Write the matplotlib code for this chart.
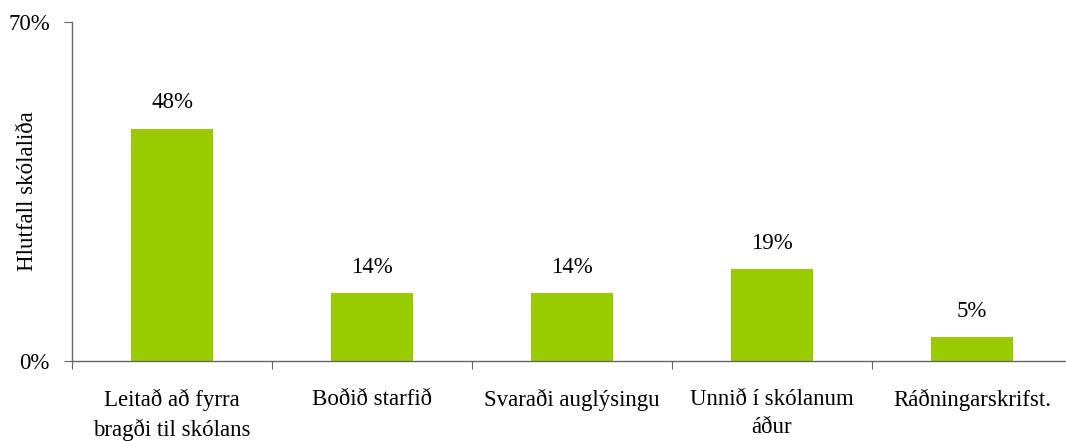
import matplotlib.pyplot as plt
from matplotlib.ticker import FixedLocator

# Data
categories = ["Leitað að fyrra\nbragði til skólans", "Boðið starfið", "Svaraði auglýsingu",
              "Unnið í skólanum\náður", "Ráðningarskrifst."]
values = [48, 14, 14, 19, 5]

plt.rcParams["font.family"] = ["Liberation Serif", "DejaVu Serif"]
FS = 16.5

fig = plt.figure(figsize=(10.66, 4.41), dpi=100)
ax = fig.add_axes([72 / 1066, 80 / 441, 1000 / 1066, 339 / 441])

x = list(range(len(categories)))
bars = ax.bar(x, values, width=0.41, color="#99CC00")

for xi, v in zip(x, values):
    ax.annotate(f"{v}%", (xi, v), xytext=(0, 11), textcoords="offset points",
                ha="center", va="bottom", fontsize=FS)

ax.set_xlim(-0.5, len(categories) - 0.5)
ax.set_ylim(0, 70)
ax.set_yticks([0, 70])
ax.set_yticklabels(["0%", "70%"], fontsize=FS)

# boundary ticks as major, labels as minor
ax.xaxis.set_major_locator(FixedLocator([i - 0.5 for i in range(len(categories) + 1)]))
ax.set_xticklabels([])
ax.xaxis.set_minor_locator(FixedLocator(x))
ax.set_xticklabels(categories, minor=True, fontsize=FS)
for lbl in ax.get_xticklabels(minor=True):
    lbl.set_linespacing(1.45)
ax.tick_params(axis="x", which="minor", length=0, pad=20)
ax.tick_params(axis="x", which="major", length=6, direction="out", color="#666666")
ax.tick_params(axis="y", length=6, direction="out", pad=10, color="#666666")

ax.set_ylabel("Hlutfall skólaliða", fontsize=FS)
ax.yaxis.set_label_coords(-0.034, 0.5)

for s in ["top", "right"]:
    ax.spines[s].set_visible(False)
for s in ["left", "bottom"]:
    ax.spines[s].set_color("#666666")
    ax.spines[s].set_linewidth(1.0)

fig.savefig("out.png", dpi=100)
